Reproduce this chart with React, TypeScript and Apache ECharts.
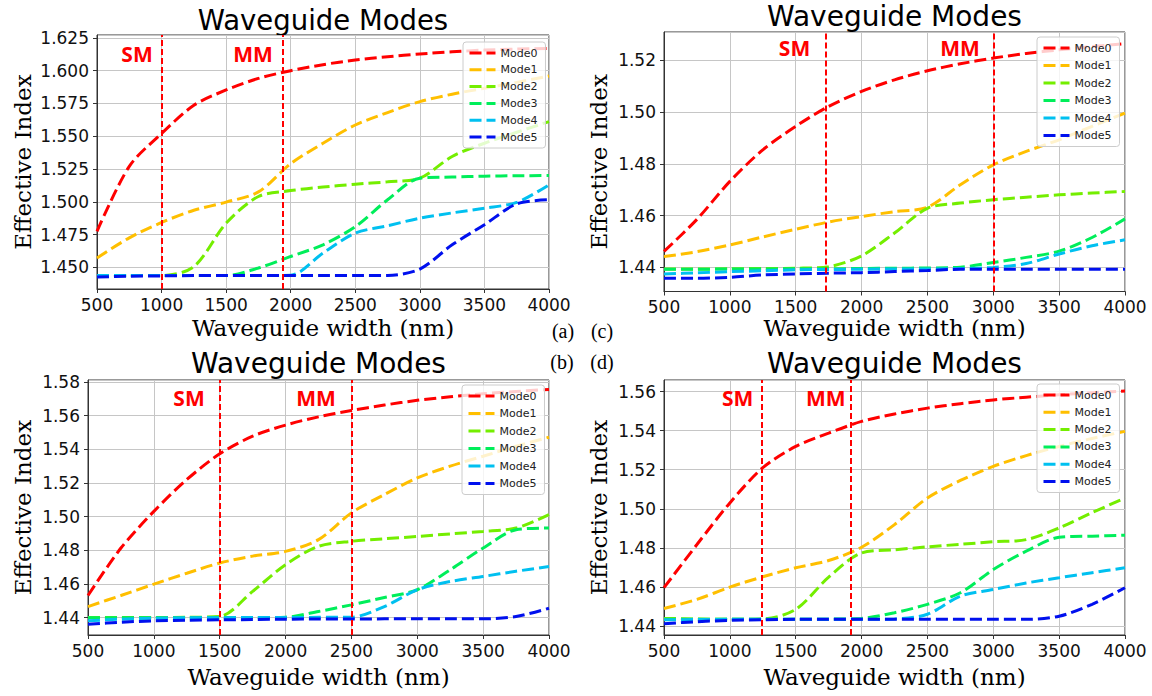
import React, { useEffect, useRef } from "react";
import * as echarts from "echarts";

// ---------- data ----------
const widths = [500, 750, 1000, 1250, 1500, 1750, 2000, 2250, 2500, 2750, 3000, 3250, 3500, 3750, 4000];
const modeNames = ["Mode0", "Mode1", "Mode2", "Mode3", "Mode4", "Mode5"];
const modeColors = ["#ff0000", "#ffbf00", "#74ee00", "#00ee5a", "#00c0f0", "#0010ee"];

// panel (a)
const aMode0 = [1.4774, 1.527, 1.552, 1.5735, 1.5852, 1.594, 1.5999, 1.6045, 1.608, 1.6105, 1.6126, 1.6143, 1.6156, 1.6164, 1.6169];
const aMode1 = [1.4571, 1.4725, 1.4842, 1.4935, 1.4997, 1.5075, 1.529, 1.5446, 1.5585, 1.568, 1.5763, 1.582, 1.5865, 1.591, 1.5958];
const aMode2 = [1.4437, 1.4437, 1.4437, 1.4505, 1.4837, 1.504, 1.5085, 1.5112, 1.5134, 1.5152, 1.518, 1.5345, 1.5446, 1.553, 1.5611];
const aMode3 = [1.4437, 1.4437, 1.4437, 1.4437, 1.4437, 1.4495, 1.4583, 1.4672, 1.481, 1.5015, 1.518, 1.5188, 1.5195, 1.5198, 1.52];
const aMode4 = [1.4437, 1.4437, 1.4437, 1.4437, 1.4437, 1.4437, 1.444, 1.4609, 1.4761, 1.4817, 1.4875, 1.4915, 1.4951, 1.4995, 1.5129];
const aMode5 = [1.4426, 1.4432, 1.4435, 1.4437, 1.4437, 1.4437, 1.4437, 1.4437, 1.4437, 1.4438, 1.4487, 1.4672, 1.4825, 1.4984, 1.5015];
const aCutoffs = [1000, 1940];

// panel (c)
const cMode0 = [1.4461, 1.4585, 1.4732, 1.4854, 1.4945, 1.5022, 1.508, 1.5125, 1.516, 1.5187, 1.5209, 1.5227, 1.5241, 1.5254, 1.5265];
const cMode1 = [1.4441, 1.446, 1.4486, 1.4517, 1.4547, 1.4575, 1.4596, 1.4615, 1.4632, 1.4719, 1.4796, 1.4848, 1.4893, 1.4945, 1.4996];
const cMode2 = [1.4393, 1.4393, 1.4394, 1.4395, 1.4396, 1.4402, 1.4444, 1.4532, 1.4628, 1.4648, 1.4661, 1.4671, 1.468, 1.4687, 1.4693];
const cMode3 = [1.4392, 1.4392, 1.4393, 1.4393, 1.4394, 1.4394, 1.4395, 1.4396, 1.4397, 1.44, 1.4418, 1.4438, 1.4462, 1.4515, 1.4587];
const cMode4 = [1.4374, 1.4378, 1.4383, 1.4386, 1.439, 1.4391, 1.4392, 1.4393, 1.4393, 1.4395, 1.4399, 1.4414, 1.4451, 1.4483, 1.4506];
const cMode5 = [1.4357, 1.4357, 1.4361, 1.437, 1.4374, 1.4377, 1.4379, 1.4383, 1.4387, 1.4392, 1.4392, 1.4392, 1.4392, 1.4392, 1.4392];
const cCutoffs = [1730, 3000];

// panel (b)
const bMode0 = [1.4531, 1.4813, 1.5031, 1.522, 1.5373, 1.5478, 1.5544, 1.5593, 1.5631, 1.5663, 1.5691, 1.5712, 1.573, 1.5744, 1.5756];
const bMode1 = [1.4465, 1.4531, 1.4598, 1.4663, 1.4724, 1.4765, 1.4793, 1.4863, 1.5022, 1.5131, 1.523, 1.53, 1.5359, 1.5418, 1.5472];
const bMode2 = [1.44, 1.44, 1.44, 1.4401, 1.4406, 1.4555, 1.4714, 1.4823, 1.4853, 1.4868, 1.4882, 1.4897, 1.4912, 1.4932, 1.5012];
const bMode3 = [1.4398, 1.4398, 1.4399, 1.4399, 1.44, 1.44, 1.4402, 1.4436, 1.4475, 1.4519, 1.4565, 1.4684, 1.4813, 1.4922, 1.4932];
const bMode4 = [1.438, 1.439, 1.4396, 1.4398, 1.4399, 1.44, 1.44, 1.4401, 1.4402, 1.4465, 1.4565, 1.4614, 1.4644, 1.4675, 1.4703];
const bMode5 = [1.436, 1.4372, 1.438, 1.4384, 1.4386, 1.4388, 1.439, 1.4391, 1.4391, 1.4392, 1.4392, 1.4392, 1.4392, 1.4406, 1.4455];
const bCutoffs = [1500, 2500];

// panel (d)
const dMode0 = [1.4596, 1.4817, 1.503, 1.521, 1.5319, 1.5387, 1.5447, 1.5485, 1.5515, 1.5538, 1.5557, 1.5571, 1.5583, 1.5594, 1.5603];
const dMode1 = [1.449, 1.4536, 1.4599, 1.4652, 1.4698, 1.4735, 1.4803, 1.4919, 1.5055, 1.5145, 1.5217, 1.5272, 1.5319, 1.536, 1.5396];
const dMode2 = [1.4439, 1.4436, 1.4434, 1.4436, 1.4485, 1.465, 1.4774, 1.479, 1.4805, 1.4818, 1.4831, 1.4842, 1.4902, 1.498, 1.5055];
const dMode3 = [1.4434, 1.4434, 1.4434, 1.4434, 1.4434, 1.4435, 1.4439, 1.4468, 1.4511, 1.457, 1.4689, 1.4783, 1.4854, 1.486, 1.4865];
const dMode4 = [1.4432, 1.4433, 1.4434, 1.4434, 1.4434, 1.4434, 1.4434, 1.4436, 1.446, 1.4553, 1.4587, 1.462, 1.4647, 1.4673, 1.4698];
const dMode5 = [1.4412, 1.4422, 1.4429, 1.4432, 1.4434, 1.4434, 1.4434, 1.4434, 1.4434, 1.4434, 1.4434, 1.4434, 1.445, 1.4511, 1.4596];
const dCutoffs = [1240, 1920];

const titleText = "Waveguide Modes";
const xAxisTitle = "Waveguide width (nm)";
const yAxisTitle = "Effective Index";
const cutoffLabels = ["SM", "MM"];

// ---------- panel configuration ----------
const panels = [
  {
    tag: "(a)", modes: [aMode0, aMode1, aMode2, aMode3, aMode4, aMode5], cutoffs: aCutoffs,
    yMin: 1.4335, yMax: 1.6271, step: 0.025, dec: 3,
    grid: { left: 97, top: 35, width: 452, height: 254 },
    legend: { left: 463, top: 42, gap: 4.8 },
    yNameGap: 63, xNameGap: 27,
    title: { x: 323, y: 20, size: 27.5 },
    labels: [[137, 54], [253, 54]],
    tagPos: [563, 331],
  },
  {
    tag: "(c)", modes: [cMode0, cMode1, cMode2, cMode3, cMode4, cMode5], cutoffs: cCutoffs,
    yMin: 1.4306, yMax: 1.531, step: 0.02, dec: 2,
    grid: { left: 664, top: 32, width: 461, height: 259.5 },
    legend: { left: 1037, top: 37, gap: 5.5 },
    yNameGap: 54, xNameGap: 25,
    title: { x: 894.5, y: 16, size: 28 },
    labels: [[794.5, 48], [960, 48]],
    tagPos: [602, 331],
  },
  {
    tag: "(b)", modes: [bMode0, bMode1, bMode2, bMode3, bMode4, bMode5], cutoffs: bCutoffs,
    yMin: 1.4296, yMax: 1.5812, step: 0.02, dec: 2,
    grid: { left: 88, top: 380, width: 461, height: 255 },
    legend: { left: 462, top: 385, gap: 5.5 },
    yNameGap: 54, xNameGap: 30,
    title: { x: 318.5, y: 363, size: 28 },
    labels: [[189, 398], [316, 398]],
    tagPos: [562, 362],
  },
  {
    tag: "(d)", modes: [dMode0, dMode1, dMode2, dMode3, dMode4, dMode5], cutoffs: dCutoffs,
    yMin: 1.4354, yMax: 1.5659, step: 0.02, dec: 2,
    grid: { left: 664, top: 380, width: 461, height: 255 },
    legend: { left: 1037, top: 384, gap: 5.3 },
    yNameGap: 54, xNameGap: 30,
    title: { x: 894.5, y: 363, size: 28 },
    labels: [[737.6, 398], [825.8, 398]],
    tagPos: [602, 362],
  },
];

function buildOption() {
  const grids: any[] = [];
  const xAxes: any[] = [];
  const yAxes: any[] = [];
  const legends: any[] = [];
  const series: any[] = [];
  const graphics: any[] = [];

  panels.forEach((p, pi) => {
    grids.push({
      ...p.grid,
      show: true,
      borderColor: "#333",
      borderWidth: 1,
      containLabel: false,
    });
    xAxes.push({
      type: "value",
      gridIndex: pi,
      min: 500,
      max: 4000,
      interval: 500,
      name: xAxisTitle,
      nameLocation: "middle",
      nameGap: p.xNameGap,
      nameTextStyle: { fontFamily: "DejaVu Serif", fontSize: 23, color: "#000" },
      axisLine: { show: true, lineStyle: { color: "#333", width: 1 } },
      axisTick: { show: true, length: 4, lineStyle: { color: "#333" } },
      axisLabel: {
        fontFamily: "DejaVu Sans",
        fontSize: 17,
        color: "#111",
        margin: 7,
        formatter: (v: number) => String(v),
      },
      splitLine: { show: true, lineStyle: { color: "#c6c6c6", width: 1 } },
    });
    yAxes.push({
      type: "value",
      gridIndex: pi,
      min: p.yMin,
      max: p.yMax,
      minInterval: p.step,
      maxInterval: p.step,
      name: yAxisTitle,
      nameLocation: "middle",
      nameGap: p.yNameGap,
      nameTextStyle: { fontFamily: "DejaVu Serif", fontSize: 23, color: "#000" },
      axisLine: { show: true, lineStyle: { color: "#333", width: 1 } },
      axisTick: { show: true, length: 4, lineStyle: { color: "#333" } },
      axisLabel: {
        fontFamily: "DejaVu Sans",
        fontSize: 17,
        color: "#111",
        margin: 8,
        showMinLabel: false,
        showMaxLabel: false,
        formatter: (v: number) => v.toFixed(p.dec),
      },
      splitLine: { show: true, lineStyle: { color: "#c6c6c6", width: 1 } },
    });
    legends.push({
      orient: "vertical",
      left: p.legend.left,
      top: p.legend.top,
      data: modeNames,
      itemWidth: 26,
      itemHeight: 12,
      itemGap: p.legend.gap,
      padding: [5, 8, 5, 5],
      backgroundColor: "rgba(255,255,255,0.8)",
      borderColor: "#cccccc",
      borderWidth: 1,
      borderRadius: 3,
      itemStyle: { opacity: 0 },
      lineStyle: { width: 3 },
      textStyle: { fontFamily: "DejaVu Sans", fontSize: 11, color: "#222", lineHeight: 12 },
      selectedMode: false,
    });
    p.modes.forEach((vals, mi) => {
      const s: any = {
        type: "line",
        name: modeNames[mi],
        xAxisIndex: pi,
        yAxisIndex: pi,
        data: widths.map((w, i) => [w, vals[i]]),
        symbol: "none",
        smooth: 0.3,
        lineStyle: { color: modeColors[mi], width: 3, type: [12, 5] },
        itemStyle: { color: modeColors[mi] },
        z: 2 + mi * 0.01,
      };
      if (mi === 0) {
        s.markLine = {
          silent: true,
          symbol: "none",
          label: { show: false },
          lineStyle: { color: "#ff0000", width: 2, type: [6, 3] },
          data: p.cutoffs.map((c) => ({ xAxis: c })),
          z: 5,
        };
      }
      series.push(s);
    });
    graphics.push({
      type: "text",
      x: p.title.x,
      y: p.title.y,
      style: {
        text: titleText,
        fill: "#000",
        fontFamily: "DejaVu Sans",
        fontSize: p.title.size,
        textAlign: "center",
        textVerticalAlign: "middle",
      },
    });
    p.labels.forEach((pos, li) => {
      graphics.push({
        type: "text",
        x: pos[0],
        y: pos[1],
        z: 10,
        style: {
          text: cutoffLabels[li],
          fill: "#ff0000",
          fontFamily: "Open Sans",
          fontWeight: "bold",
          fontSize: 21,
          textAlign: "center",
          textVerticalAlign: "middle",
        },
      });
    });
    graphics.push({
      type: "text",
      x: p.tagPos[0],
      y: p.tagPos[1],
      style: {
        text: p.tag,
        fill: "#000",
        fontFamily: "Liberation Serif",
        fontSize: 20,
        textAlign: "center",
        textVerticalAlign: "middle",
      },
    });
  });

  return {
    animation: false,
    backgroundColor: "#ffffff",
    grid: grids,
    xAxis: xAxes,
    yAxis: yAxes,
    legend: legends,
    series,
    graphic: { elements: graphics },
  };
}

export default function App() {
  const ref = useRef<HTMLDivElement>(null);
  useEffect(() => {
    if (!ref.current) return;
    const chart = echarts.init(ref.current, undefined, { renderer: "svg" });
    chart.setOption(buildOption() as any);
    return () => chart.dispose();
  }, []);
  return (
    <div
      ref={ref}
      style={{ position: "absolute", left: 0, top: 0, width: 1152, height: 696, background: "#fff" }}
    />
  );
}
